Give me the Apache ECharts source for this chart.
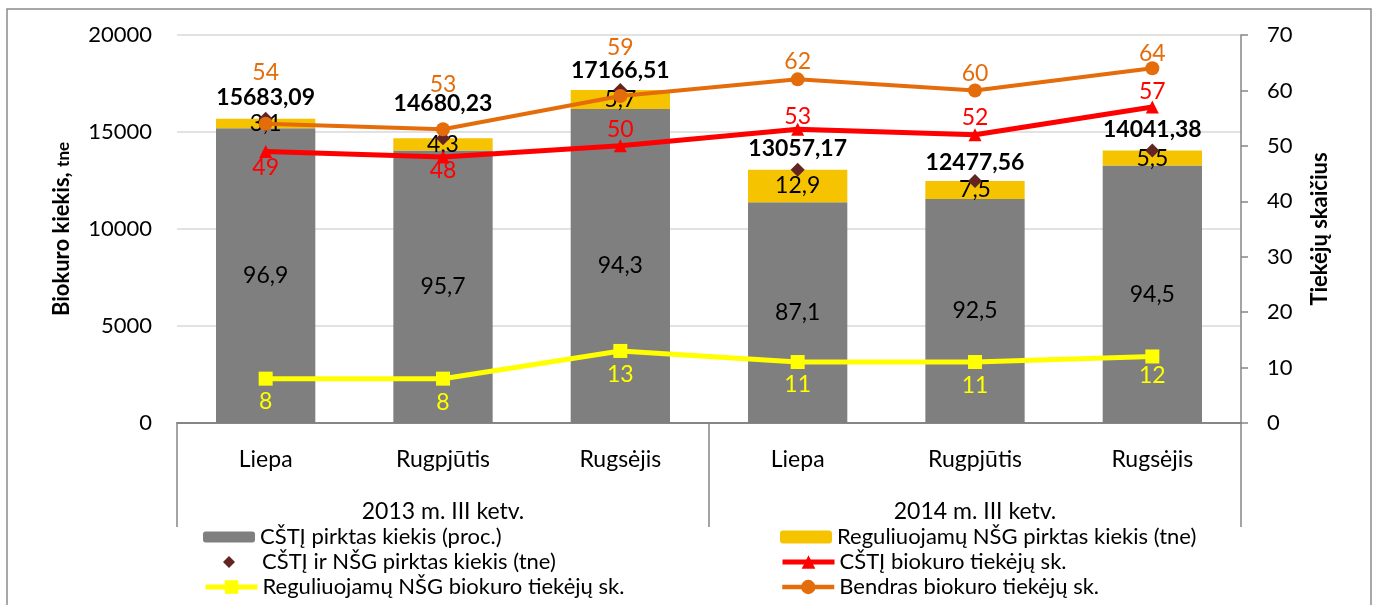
<!DOCTYPE html>
<html>
<head>
    <meta charset="utf-8">
    <title>Biokuro kiekis</title>
    <script src="https://cdn.jsdelivr.net/npm/echarts@6/dist/echarts.min.js"></script>
    <style>
        html, body { margin: 0; padding: 0; background: #fff; }
    </style>
</head>
<body>
    <div id="chart" style="width:1377px;height:605px;"></div>

    <script type="text/javascript">
        // duomenys
        var months = ['Liepa', 'Rugpjūtis', 'Rugsėjis', 'Liepa', 'Rugpjūtis', 'Rugsėjis'];
        var quarters = ['2013 m. III ketv.', '2014 m. III ketv.'];
        var totalTne = [15683.09, 14680.23, 17166.51, 13057.17, 12477.56, 14041.38];
        var cstiPct = [96.9, 95.7, 94.3, 87.1, 92.5, 94.5];
        var nsgPct = [3.1, 4.3, 5.7, 12.9, 7.5, 5.5];
        var cstiSuppliers = [49, 48, 50, 53, 52, 57];
        var nsgSuppliers = [8, 8, 13, 11, 11, 12];
        var allSuppliers = [54, 53, 59, 62, 60, 64];

        // etikečių poslinkiai (px)
        var totalLabelDy = [-21, -35, -19, -21, -18, -21];
        var allLabelDy = [-51, -45, -48, -18, -17, -15];
        var cstiLabelDy = [16, 14, -16, -13, -17, -15];
        var nsgLabelDy = [23, 24, 24, 23, 24, 19];

        var names = [
            'CŠTĮ pirktas kiekis (proc.)',
            'Reguliuojamų NŠG pirktas kiekis (tne)',
            'CŠTĮ ir NŠG pirktas kiekis (tne)',
            'CŠTĮ biokuro tiekėjų sk.',
            'Reguliuojamų NŠG biokuro tiekėjų sk.',
            'Bendras biokuro tiekėjų sk.'
        ];

        function fmt(v, d) {
            return v.toFixed(d).replace('.', ',');
        }

        function withDy(values, dys) {
            return values.map(function (v, i) {
                return { value: v, label: { offset: [0, dys[i]] } };
            });
        }

        var cstiPart = totalTne.map(function (t, i) { return t * cstiPct[i] / 100; });
        var nsgPart = totalTne.map(function (t, i) { return t * nsgPct[i] / 100; });

        var font = 'Lato, "Open Sans", sans-serif';

        // viena legenda kiekvienam įrašui, kad stulpeliai sutaptų
        function legendItem(name, left, top, w, h, extra) {
            var l = {
                left: left, top: top,
                padding: 0,
                itemWidth: w, itemHeight: h,
                textStyle: { fontSize: 22, color: '#000', fontFamily: font, lineHeight: 22 },
                data: [name]
            };
            if (extra) l.data = [Object.assign({ name: name }, extra)];
            return l;
        }

        var option = {
            animation: false,
            textStyle: { fontFamily: font },
            grid: { left: 177, right: 136, top: 35, bottom: 182 },
            graphic: [{
                type: 'rect',
                silent: true,
                z: -10,
                shape: { x: 7, y: 9, width: 1364, height: 620 },
                style: { fill: 'none', stroke: '#8c8c8c', lineWidth: 1.5 }
            }],
            legend: [
                legendItem(names[0], 203, 526, 52, 11),
                legendItem(names[2], 223, 551, 12, 12, { textStyle: { padding: [0, 0, 0, 22] } }),
                legendItem(names[4], 203, 576, 52, 17, { lineStyle: { width: 5 } }),
                legendItem(names[1], 780, 526, 52, 13),
                legendItem(names[3], 780, 551, 52, 17, { lineStyle: { width: 5 } }),
                legendItem(names[5], 780, 576, 52, 18, { lineStyle: { width: 4.5 } })
            ],
            xAxis: [{
                type: 'category',
                data: months,
                boundaryGap: true,
                axisLine: { lineStyle: { color: '#868686', width: 2 } },
                axisTick: { show: false },
                axisLabel: { margin: 25, fontSize: 23, color: '#000' }
            }, {
                type: 'category',
                data: quarters,
                position: 'bottom',
                boundaryGap: true,
                axisLine: { show: false },
                axisTick: { show: true, length: 104, lineStyle: { color: '#868686', width: 1.5 } },
                axisLabel: { margin: 77, fontSize: 23, color: '#000' }
            }],
            yAxis: [{
                type: 'value',
                min: 0, max: 20000, interval: 5000,
                name: '{a|Biokuro kiekis, }{b|tne}',
                nameLocation: 'middle',
                nameRotate: 90,
                nameGap: 104,
                nameTextStyle: {
                    rich: {
                        a: { fontSize: 22, fontWeight: 'bold', color: '#000', fontFamily: font },
                        b: { fontSize: 17, fontWeight: 'bold', color: '#000', fontFamily: font, padding: [4, 0, 0, 0] }
                    }
                },
                axisLine: { show: false },
                axisTick: { show: false },
                axisLabel: {
                    margin: 25, fontSize: 22, color: '#000',
                    formatter: function (v) { return String(v); }
                },
                splitLine: { lineStyle: { color: '#d9d9d9', width: 1.5 } }
            }, {
                type: 'value',
                min: 0, max: 70, interval: 10,
                name: 'Tiekėjų skaičius',
                nameLocation: 'middle',
                nameRotate: 90,
                nameGap: 68,
                nameTextStyle: { fontSize: 22, fontWeight: 'bold', color: '#000' },
                axisLine: { show: true, lineStyle: { color: '#868686', width: 1.5 } },
                axisTick: { show: true, length: 7, lineStyle: { color: '#868686', width: 1.5 } },
                axisLabel: { margin: 26, fontSize: 22, color: '#000' },
                splitLine: { show: false }
            }],
            series: [{
                name: names[0],
                type: 'bar',
                stack: 'kiekis',
                barWidth: '56%',
                itemStyle: { color: '#7f7f7f' },
                label: {
                    show: true, position: 'inside', fontSize: 23, color: '#000',
                    formatter: function (p) { return fmt(cstiPct[p.dataIndex], 1); }
                },
                data: cstiPart
            }, {
                name: names[1],
                type: 'bar',
                stack: 'kiekis',
                itemStyle: { color: '#f5c300' },
                label: {
                    show: true, position: 'inside', fontSize: 23, color: '#000',
                    formatter: function (p) { return fmt(nsgPct[p.dataIndex], 1); }
                },
                data: nsgPart
            }, {
                name: names[2],
                type: 'scatter',
                symbol: 'diamond',
                symbolSize: 14,
                itemStyle: { color: '#632523', opacity: 1 },
                label: {
                    show: true, position: 'inside', fontSize: 23, fontWeight: 'bold', color: '#000',
                    formatter: function (p) { return fmt(totalTne[p.dataIndex], 2); }
                },
                data: withDy(totalTne, totalLabelDy)
            }, {
                name: names[3],
                type: 'line',
                yAxisIndex: 1,
                symbol: 'triangle',
                symbolSize: 13,
                lineStyle: { color: '#ff0000', width: 5 },
                itemStyle: { color: '#ff0000' },
                label: { show: true, position: 'inside', fontSize: 23, color: '#ff0000' },
                data: withDy(cstiSuppliers, cstiLabelDy)
            }, {
                name: names[4],
                type: 'line',
                yAxisIndex: 1,
                symbol: 'rect',
                symbolSize: 14,
                lineStyle: { color: '#ffff00', width: 5 },
                itemStyle: { color: '#ffff00' },
                label: { show: true, position: 'inside', fontSize: 23, color: '#ffff00' },
                data: withDy(nsgSuppliers, nsgLabelDy)
            }, {
                name: names[5],
                type: 'line',
                yAxisIndex: 1,
                symbol: 'circle',
                symbolSize: 14,
                lineStyle: { color: '#e46c0a', width: 4 },
                itemStyle: { color: '#e46c0a' },
                label: { show: true, position: 'inside', fontSize: 23, color: '#e46c0a' },
                data: withDy(allSuppliers, allLabelDy)
            }]
        };

        var myChart = echarts.init(document.getElementById('chart'));
        myChart.setOption(option);
    </script>
</body>
</html>
